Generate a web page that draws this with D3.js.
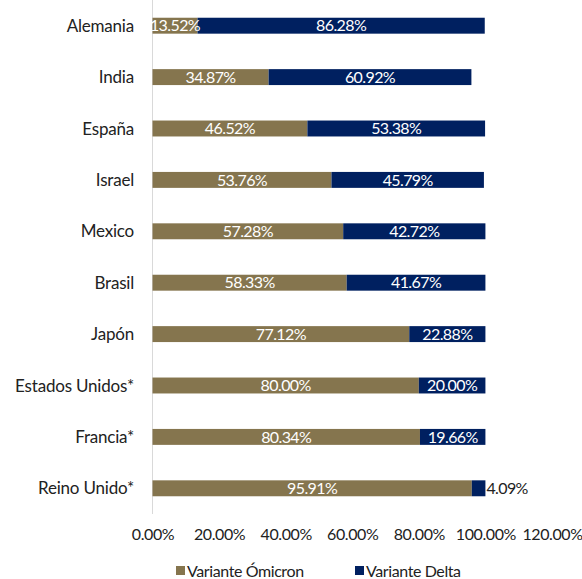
<!DOCTYPE html>
<html>
<head>
<meta charset="utf-8">
<script src="https://cdn.jsdelivr.net/npm/d3@7"></script>
<style>
  body { margin: 0; background: #fff; }
  text { font-family: Lato, "Open Sans", sans-serif; }
</style>
</head>
<body>
<svg width="582" height="579"></svg>
<script>
/*
Chart data
*/
var countries = ['Alemania', 'India', 'España', 'Israel', 'Mexico', 'Brasil', 'Japón', 'Estados Unidos*', 'Francia*', 'Reino Unido*'];
var omicron = [13.52, 34.87, 46.52, 53.76, 57.28, 58.33, 77.12, 80.00, 80.34, 95.91];
var delta = [86.28, 60.92, 53.38, 45.79, 42.72, 41.67, 22.88, 20.00, 19.66, 4.09];
var seriesNames = ['Variante Ómicron', 'Variante Delta'];
var tickValues = [0, 20, 40, 60, 80, 100, 120];

const omicronColor = '#85754E';
const deltaColor = '#002060';

var svg = d3.select('svg'),
	plotLeft = 152.5,
	plotRight = 552,
	plotTop = 0,
	plotBottom = 514;

var x = d3.scaleLinear().domain([0, 120]).range([plotLeft, plotRight]);
var y = d3.scaleBand().domain(countries).range([plotTop, plotBottom]).paddingInner(0.69).paddingOuter(0.345);

var rows = countries.map(function(c, i){
	return { country: c, omicron: omicron[i], delta: delta[i] };
});

// axis line on the left
svg.append('line')
	.attr('x1', plotLeft).attr('x2', plotLeft)
	.attr('y1', plotTop).attr('y2', plotBottom)
	.attr('stroke', '#d9d9d9');

// bars
var g = svg.append('g');
var row = g.selectAll('g.row').data(rows).enter().append('g').attr('class', 'row');

row.append('rect')
	.attr('x', x(0))
	.attr('y', function(d){ return y(d.country); })
	.attr('width', function(d){ return x(d.omicron) - x(0); })
	.attr('height', y.bandwidth())
	.attr('fill', omicronColor);

row.append('rect')
	.attr('x', function(d){ return x(d.omicron); })
	.attr('y', function(d){ return y(d.country); })
	.attr('width', function(d){ return x(d.omicron + d.delta) - x(d.omicron); })
	.attr('height', y.bandwidth())
	.attr('fill', deltaColor);

// value labels
row.append('text')
	.attr('x', function(d){ return (x(0) + x(d.omicron)) / 2; })
	.attr('y', function(d){ return y(d.country) + y.bandwidth() / 2; })
	.attr('dy', '0.36em')
	.attr('text-anchor', 'middle')
	.attr('fill', '#fff')
	.attr('font-size', 16)
	.attr('letter-spacing', -0.6)
	.text(function(d){ return d.omicron.toFixed(2) + '%'; });

row.append('text')
	.attr('x', function(d){
		if(d.delta < 8){ return x(d.omicron + d.delta) + 1; }
		return (x(d.omicron) + x(d.omicron + d.delta)) / 2;
	})
	.attr('y', function(d){ return y(d.country) + y.bandwidth() / 2; })
	.attr('dy', '0.36em')
	.attr('text-anchor', function(d){ return d.delta < 8 ? 'start' : 'middle'; })
	.attr('fill', function(d){ return d.delta < 8 ? '#222' : '#fff'; })
	.attr('font-size', 16)
	.attr('letter-spacing', -0.6)
	.text(function(d){ return d.delta.toFixed(2) + '%'; });

// category labels
svg.append('g').selectAll('text').data(countries).enter().append('text')
	.attr('x', 134)
	.attr('y', function(d){ return y(d) + y.bandwidth() / 2; })
	.attr('dy', '0.36em')
	.attr('text-anchor', 'end')
	.attr('fill', '#222')
	.attr('font-size', 17)
	.attr('letter-spacing', -0.2)
	.text(function(d){ return d; });

// x tick labels
var xAxis = d3.axisBottom(x).tickValues(tickValues).tickSize(0).tickPadding(0)
	.tickFormat(function(d){ return d.toFixed(2) + '%'; });
var axisG = svg.append('g').attr('transform', 'translate(0,529)').call(xAxis);
axisG.select('.domain').remove();
axisG.selectAll('text')
	.attr('font-size', 16)
	.attr('letter-spacing', -0.4)
	.attr('fill', '#222')
	.style('font-family', 'Lato, "Open Sans", sans-serif');

// legend
var legend = svg.append('g').attr('transform', 'translate(0,571)');
var legendX = [176, 355];
var legendColors = [omicronColor, deltaColor];
seriesNames.forEach(function(name, i){
	legend.append('rect')
		.attr('x', legendX[i]).attr('y', -5)
		.attr('width', 9).attr('height', 9)
		.attr('fill', legendColors[i]);
	legend.append('text')
		.attr('x', legendX[i] + 11).attr('y', 0)
		.attr('dy', '0.36em')
		.attr('font-size', 16)
		.attr('letter-spacing', -0.4)
		.attr('fill', '#222')
		.text(name);
});
</script>
</body>
</html>
